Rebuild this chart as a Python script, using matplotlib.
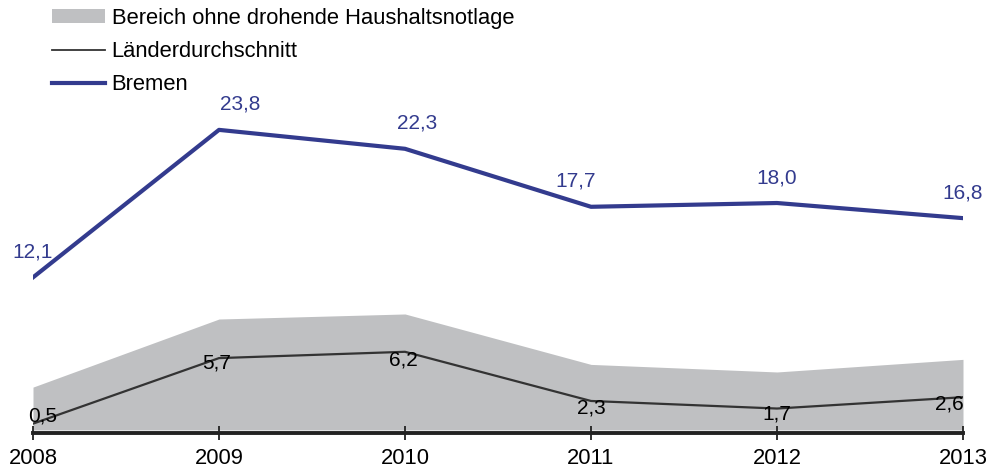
import matplotlib.pyplot as plt
from matplotlib.patches import Patch
from matplotlib.lines import Line2D

plt.rcParams['font.family'] = ['Liberation Sans', 'DejaVu Sans']

# Daten
jahre = [2008, 2009, 2010, 2011, 2012, 2013]
bremen = [12.1, 23.8, 22.3, 17.7, 18.0, 16.8]
laender = [0.5, 5.7, 6.2, 2.3, 1.7, 2.6]
bereich = [3.4, 8.8, 9.2, 5.2, 4.6, 5.6]

# Verschiebung der Beschriftungen (Pixel)
dx_bremen = [0, 21, 12, -15, 0, 0]
dx_laender = [10, -2, -2, 0, 0, -14]
dy_laender = [8, -5, -8, -7, -5, -7]

blau = '#333b8e'
grau = '#bfc0c2'

fig = plt.figure(figsize=(9.96, 4.71), dpi=100)
ax = fig.add_axes([33 / 996, 1 - 433 / 471, 930 / 996, 433 / 471])
x = list(range(len(jahre)))

ax.fill_between(x, 0, bereich, color=grau, linewidth=0)
ax.plot(x, laender, color='#333333', linewidth=1.6)
ax.plot(x, bremen, color=blau, linewidth=3)

for i, v in enumerate(bremen):
    ax.annotate(f'{v:.1f}'.replace('.', ','), (x[i], v), xytext=(dx_bremen[i], 16),
                textcoords='offset pixels', ha='center', va='bottom',
                color=blau, fontsize=15)
for i, v in enumerate(laender):
    ax.annotate(f'{v:.1f}'.replace('.', ','), (x[i], v), xytext=(dx_laender[i], dy_laender[i]),
                textcoords='offset pixels', ha='center', va='center',
                color='black', fontsize=15)

ax.set_xlim(0, len(jahre) - 1)
ax.set_ylim(-0.24, 34.1)
for s in ['top', 'right', 'left']:
    ax.spines[s].set_visible(False)
ax.spines['bottom'].set_linewidth(2.8)
ax.spines['bottom'].set_color('#222222')
ax.set_yticks([])
ax.set_xticks(x)
ax.set_xticklabels([str(j) for j in jahre], fontsize=15.8)
ax.tick_params(axis='x', direction='inout', length=10, width=1.3, color='#222222', pad=6)

handles = [Patch(facecolor=grau, edgecolor='none'),
           Line2D([0], [0], color='#333333', linewidth=1.3),
           Line2D([0], [0], color=blau, linewidth=3)]
labels = ['Bereich ohne drohende Haushaltsnotlage', 'Länderdurchschnitt', 'Bremen']
fig.legend(handles, labels, loc='upper left', bbox_to_anchor=(48 / 996, 0.992),
           frameon=False, fontsize=15.8, handlelength=2.4, handletextpad=0.3,
           handleheight=0.6, labelspacing=0.55, borderaxespad=0, borderpad=0.2)

fig.savefig('out.png', dpi=100)
